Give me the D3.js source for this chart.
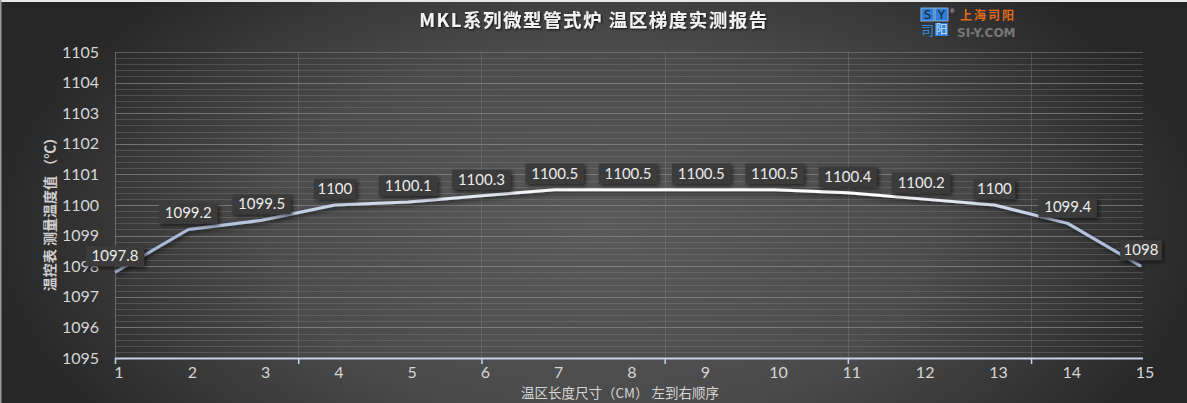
<!DOCTYPE html>
<html><head><meta charset="utf-8">
<script src="https://cdn.jsdelivr.net/npm/d3@7"></script>
<style>body{margin:0;background:#333;}svg{display:block;}</style>
</head><body>
<svg id="c" width="1187" height="403"></svg>
<script>
const categories = ["1","2","3","4","5","6","7","8","9","10","11","12","13","14","15"];
const values = [1097.8,1099.2,1099.5,1100,1100.1,1100.3,1100.5,1100.5,1100.5,1100.5,1100.4,1100.2,1100,1099.4,1098];
const yTicks = [1095,1096,1097,1098,1099,1100,1101,1102,1103,1104,1105];
const titleText = "MKL系列微型管式炉 温区梯度实测报告";
const yTitle = "温控表 测量温度值 （℃）";
const xTitle = "温区长度尺寸（CM） 左到右顺序";

const W = 1187, H = 403;
const svg = d3.select("#c");
const defs = svg.append("defs");
const bg = defs.append("radialGradient").attr("id","bg").attr("gradientUnits","userSpaceOnUse")
  .attr("cx",600).attr("cy",230).attr("r",620).attr("gradientTransform","translate(600,230) scale(1,0.55) translate(-600,-230)");
bg.append("stop").attr("offset","0").attr("stop-color","#5a5a5a");
bg.append("stop").attr("offset","0.55").attr("stop-color","#4a4a4a");
bg.append("stop").attr("offset","1").attr("stop-color","#262626");
const lg = defs.append("linearGradient").attr("id","lg").attr("gradientUnits","userSpaceOnUse")
  .attr("x1",115).attr("x2",1141).attr("y1",0).attr("y2",0);
[[0,"#9fb2d4"],[0.3,"#d8e0ee"],[0.45,"#ffffff"],[0.75,"#ffffff"],[0.88,"#c9d3e6"],[1,"#a3b4d4"]].forEach(s=>lg.append("stop").attr("offset",s[0]).attr("stop-color",s[1]));
const sh = defs.append("filter").attr("id","sh").attr("x","-20%").attr("y","-50%").attr("width","140%").attr("height","200%");
sh.append("feDropShadow").attr("dx",2).attr("dy",2).attr("stdDeviation",2).attr("flood-color","#000").attr("flood-opacity",0.6);
const tsh = defs.append("filter").attr("id","tsh");
tsh.append("feDropShadow").attr("dx",1).attr("dy",1).attr("stdDeviation",1).attr("flood-color","#000").attr("flood-opacity",0.8);

svg.append("rect").attr("width",W).attr("height",H).attr("fill","url(#bg)");
svg.append("rect").attr("x",0).attr("y",0).attr("width",W).attr("height",2).attr("fill","#e8e8e8");
svg.append("rect").attr("x",0).attr("y",0).attr("width",1.5).attr("height",H).attr("fill","#9a9a9a");

const x0 = 115, x1 = 1141;
const x = d3.scalePoint().domain(categories).range([x0,x1]);
const xl = d3.scaleLinear().domain([0,categories.length-1]).range([x0,x1]);
const y = d3.scaleLinear().domain([1095,1105]).range([358,52]);

// minor gridlines
const minor = d3.range(1095.2,1105,0.2);
svg.append("g").selectAll("line").data(minor).join("line")
  .attr("x1",x0).attr("x2",1143).attr("y1",d=>Math.round(y(d))+0.5).attr("y2",d=>Math.round(y(d))+0.5)
  .attr("stroke","#8a8a8a").attr("stroke-opacity",0.35).attr("stroke-width",1);
svg.append("g").selectAll("line").data(yTicks.slice(1)).join("line")
  .attr("x1",x0).attr("x2",1143).attr("y1",d=>Math.round(y(d))+0.5).attr("y2",d=>Math.round(y(d))+0.5)
  .attr("stroke","#9a9a9a").attr("stroke-opacity",0.45).attr("stroke-width",1);
// vertical gridlines every 2.5 categories
const vIdx = [2.5,5,7.5,10,12.5];
svg.append("g").selectAll("line").data(vIdx).join("line")
  .attr("x1",d=>Math.round(xl(d))+0.5).attr("x2",d=>Math.round(xl(d))+0.5).attr("y1",52).attr("y2",358)
  .attr("stroke","#8a8a8a").attr("stroke-opacity",0.35);
svg.append("line").attr("x1",x0+0.5).attr("x2",x0+0.5).attr("y1",52).attr("y2",358).attr("stroke","#9a9a9a").attr("stroke-opacity",0.5);

// x axis
const xAxis = d3.axisBottom(xl).tickValues([0,2.5,5,7.5,10,12.5]).tickSize(6).tickFormat("");
const gx = svg.append("g").attr("transform","translate(0,358)").call(xAxis);
gx.select(".domain").attr("d",`M${x0},0.5H1143`).attr("stroke","#c5d2ec").attr("stroke-width",1.8);
gx.selectAll(".tick line").attr("stroke","#c5d2ec").attr("stroke-width",1.5);
svg.append("g").selectAll("text").data(categories).join("text")
  .attr("x",d=>x(d)+4).attr("y",378).attr("text-anchor","middle")
  .attr("font-family","Lato, 'Open Sans', sans-serif").attr("font-size",16).attr("fill","#d6d6d6").text(d=>d);

// y axis labels
const yAxis = d3.axisLeft(y).tickValues(yTicks).tickSize(0).tickPadding(16).tickFormat(d3.format("d"));
const gy = svg.append("g").attr("transform",`translate(${x0},0)`).call(yAxis);
gy.select(".domain").remove();
gy.selectAll("text").attr("font-family","Lato, 'Open Sans', sans-serif").attr("font-size",16).attr("fill","#d6d6d6");

// line
const line = d3.line().x((d,i)=>x(categories[i])).y(d=>y(d));
svg.append("path").datum(values).attr("d",line).attr("fill","none")
  .attr("stroke","url(#lg)").attr("stroke-width",3).attr("stroke-linejoin","round").attr("filter","url(#sh)");

// data labels
const lab = svg.append("g").selectAll("g").data(values).join("g")
  .attr("transform",(d,i)=>`translate(${x(categories[i])},${y(d)-16})`);
lab.each(function(d){
  const g = d3.select(this);
  const t = String(d);
  const w = t.length*8.4+8;
  g.append("rect").attr("x",-w/2).attr("y",-10).attr("width",w).attr("height",20)
    .attr("fill","#3b3b3b").attr("filter","url(#sh)");
  g.append("text").attr("x",0).attr("y",5).attr("text-anchor","middle")
    .attr("font-family","Lato, 'Open Sans', sans-serif").attr("font-size",15).attr("fill","#ececec").text(t);
});

// titles
svg.append("text").attr("x",594).attr("y",27).attr("text-anchor","middle")
  .attr("font-family","'Noto Sans CJK SC', sans-serif").attr("font-weight","bold").attr("font-size",18.5)
  .attr("fill","#f2f2f2").attr("filter","url(#tsh)").attr("letter-spacing",1.5).text(titleText);
svg.append("text").attr("transform","translate(55,211) rotate(-90)").attr("text-anchor","middle")
  .attr("font-family","'Noto Sans CJK SC', sans-serif").attr("font-weight","bold").attr("font-size",14)
  .attr("fill","#d0d0d0").text(yTitle);
svg.append("text").attr("x",620).attr("y",398).attr("text-anchor","middle")
  .attr("font-family","'Noto Sans CJK SC', sans-serif").attr("font-size",13.5)
  .attr("fill","#d6d6d6").text(xTitle);

// logo
const logo = svg.append("g").attr("transform","translate(921,8)");
[["S",0,0,"#2f7fd8"],["Y",14,0,"#2f7fd8"]].forEach(b=>{
  logo.append("rect").attr("x",b[1]).attr("y",b[2]).attr("width",13).attr("height",13).attr("fill",b[3]).attr("stroke","#9cc4f0").attr("stroke-width",0.8);
  logo.append("text").attr("x",b[1]+6.5).attr("y",b[2]+11).attr("text-anchor","middle").attr("font-family","'DejaVu Sans',sans-serif").attr("font-size",12).attr("fill","#1d1d1d").text(b[0]);
});
logo.append("text").attr("x",6.5).attr("y",27).attr("text-anchor","middle").attr("font-family","'Noto Sans CJK SC',sans-serif").attr("font-size",13).attr("fill","#3c8ae0").text("司");
logo.append("rect").attr("x",14).attr("y",15).attr("width",13).attr("height",13).attr("fill","#2f7fd8");
logo.append("text").attr("x",20.5).attr("y",26).attr("text-anchor","middle").attr("font-family","'Noto Sans CJK SC',sans-serif").attr("font-size",12).attr("fill","#cfe2fb").text("阳");
logo.append("text").attr("x",29).attr("y",5).attr("font-family","sans-serif").attr("font-size",6).attr("fill","#ddd").text("®");
logo.append("text").attr("x",39).attr("y",12).attr("font-family","'Noto Sans CJK SC',sans-serif").attr("font-weight","bold").attr("font-size",12).attr("letter-spacing",2).attr("fill","#e06a1a").text("上海司阳");
logo.append("text").attr("x",36).attr("y",29).attr("font-family","'DejaVu Sans',sans-serif").attr("font-weight","bold").attr("font-size",12).attr("fill","#777").text("SI-Y.COM");
</script>
</body></html>
